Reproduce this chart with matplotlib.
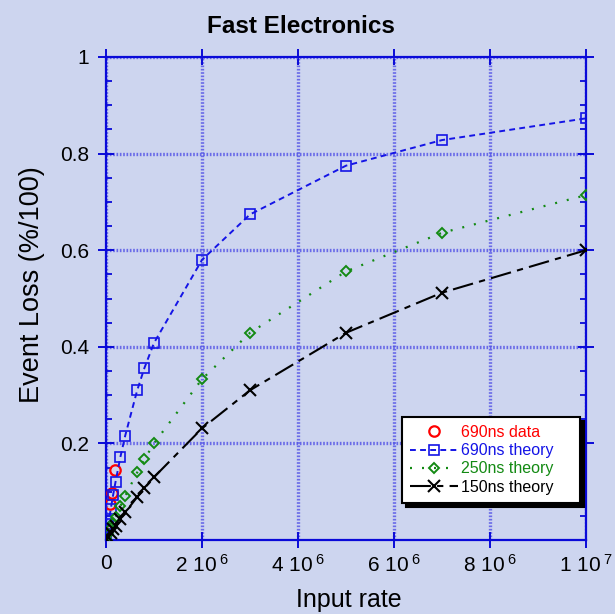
import matplotlib.pyplot as plt
from matplotlib.ticker import MultipleLocator, FixedLocator

# ----------------------------
# Data
# ----------------------------
rate = [1e4, 5e4, 1e5, 1.5e5, 2e5, 3e5, 4e5, 6.5e5, 8e5,
        1e6, 2e6, 3e6, 5e6, 7e6, 1e7]

loss_690_theory = [0.007, 0.033, 0.065, 0.094, 0.121, 0.172, 0.216, 0.310,
                   0.356, 0.408, 0.580, 0.674, 0.775, 0.828, 0.873]
loss_250_theory = [0.0025, 0.012, 0.024, 0.036, 0.048, 0.070, 0.091, 0.140,
                   0.167, 0.200, 0.333, 0.429, 0.556, 0.636, 0.714]
loss_150_theory = [0.0015, 0.007, 0.015, 0.022, 0.029, 0.043, 0.057, 0.089,
                   0.107, 0.130, 0.231, 0.310, 0.429, 0.512, 0.600]

rate_690_data = [5e3, 7.7e4, 1.25e5, 1.8e5]
loss_690_data = [0.015, 0.074, 0.097, 0.145]

xtick_vals = [0, 2e6, 4e6, 6e6, 8e6, 1e7]
xtick_text = ["0", "2 10$^{\\ 6}$", "4 10$^{\\ 6}$", "6 10$^{\\ 6}$",
              "8 10$^{\\ 6}$", "1 10$^{\\ 7}$"]
ytick_vals = [0.2, 0.4, 0.6, 0.8, 1.0]
ytick_text = ["0.2", "0.4", "0.6", "0.8", "1"]

legend_labels = ["690ns data", "690ns theory", "250ns theory", "150ns theory"]

# ----------------------------
# Style
# ----------------------------
plt.rcParams['font.family'] = ['Liberation Sans', 'DejaVu Sans']
plt.rcParams['mathtext.fontset'] = 'custom'
plt.rcParams['mathtext.rm'] = 'Liberation Sans'
plt.rcParams['mathtext.it'] = 'Liberation Sans'

bg = '#cdd5ef'
axis_blue = '#0a0ad8'
c_red = '#ff0000'
c_blue = '#1414e6'
c_green = '#138a13'

fig = plt.figure(figsize=(6.15, 6.14), dpi=100)
fig.patch.set_facecolor(bg)

ax = fig.add_axes([106 / 615, 1 - 540 / 614, 480 / 615, 483 / 614])
ax.set_facecolor(bg)

# ----------------------------
# Series
# ----------------------------
ax.plot(rate_690_data, loss_690_data, linestyle='none', marker='o',
        ms=7.5, mfc='none', mec=c_red, mew=1.6,
        label=legend_labels[0] + "    ", zorder=4)

ax.plot(rate, loss_690_theory, color=c_blue, lw=1.4, linestyle=(0, (3, 2.2)),
        marker='s', ms=6.5, mfc='none', mec=c_blue, mew=1.2,
        label=legend_labels[1] + "    ", zorder=5)

ax.plot(rate, loss_250_theory, color=c_green, lw=1.6, linestyle=(0, (0.9, 4.5)),
        marker='D', ms=5.5, mfc='none', mec=c_green, mew=1.4,
        label=legend_labels[2] + "    ", zorder=5)

ax.plot(rate, loss_150_theory, color='black', lw=1.5, linestyle=(0, (10, 3, 3, 3)),
        marker='x', ms=8, mew=1.5,
        label=legend_labels[3] + "    ", zorder=5)

# ----------------------------
# Axes
# ----------------------------
ax.set_xlim(0, 1e7)
ax.set_ylim(0, 1)

ax.xaxis.set_major_locator(FixedLocator(xtick_vals))
ax.set_xticklabels(xtick_text)
ax.yaxis.set_major_locator(FixedLocator(ytick_vals))
ax.set_yticklabels(ytick_text)
ax.yaxis.set_minor_locator(MultipleLocator(0.05))

for s in ax.spines.values():
    s.set_color(axis_blue)
    s.set_linewidth(1.6)

ax.tick_params(which='major', direction='inout', length=12, width=1.4,
               color=axis_blue, top=True, right=True, labelsize=15)
ax.tick_params(axis='y', which='major', pad=6)
ax.tick_params(axis='x', which='major', pad=4)
ax.tick_params(which='minor', direction='in', length=4, width=1.3,
               color=axis_blue, left=True, right=True)

ax.grid(True, which='major', color='#5050e6', lw=2.4,
        linestyle=(0, (0.5, 0.5)), alpha=0.8)
ax.set_axisbelow(True)

ax.set_xlabel("Input rate", fontsize=18)
ax.xaxis.set_label_coords(0.506, -0.100)
ax.set_ylabel("Event Loss (%/100)", fontsize=19.5)
ax.yaxis.set_label_coords(-0.128, 0.528)

fig.text(0.49, 1 - 33 / 614, "Fast Electronics", ha='center', va='baseline',
         fontsize=17.5, fontweight='bold')

# ----------------------------
# Legend
# ----------------------------
leg = ax.legend(loc='upper left', bbox_to_anchor=(402 / 615, 1 - 417 / 614),
                bbox_transform=fig.transFigure, borderaxespad=0,
                fontsize=11.5, frameon=True, fancybox=False, framealpha=1,
                edgecolor='black', facecolor='white', handlelength=3.0,
                handletextpad=0.2, labelspacing=0.2, borderpad=0.5,
                shadow={'color': 'black', 'alpha': 1, 'ox': 3, 'oy': -3},
                numpoints=1)
leg.get_frame().set_linewidth(1.5)
for txt, col in zip(leg.get_texts(), [c_red, c_blue, c_green, 'black']):
    txt.set_color(col)

fig.savefig("out.png", dpi=100, facecolor=fig.get_facecolor())
